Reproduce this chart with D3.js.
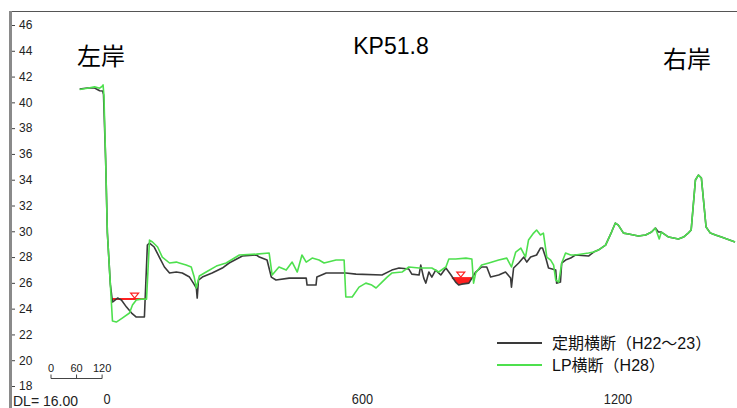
<!DOCTYPE html>
<html>
<head>
<meta charset="utf-8">
<script src="https://cdn.jsdelivr.net/npm/d3@7"></script>
<style>
  body { margin: 0; background: #fff; }
  svg { display: block; font-family: "Liberation Sans", Arial, "Noto Sans CJK JP", sans-serif; }
</style>
</head>
<body>
<svg id="chart"></svg>
<script>
// 定期横断 (H22~23) survey
var oldDist = [-63,-45,-28,-16,-9,-7,-2,2,9,14,
  26,35,47,59,70,82,89,96,101,112,
  124,136,148,164,178,195,204,211,213,216,
  225,248,272,288,319,352,359,377,387,398,
  429,469,471,492,494,516,562,586,647,670,
  687,710,717,734,738,745,750,757,764,773,
  785,797,809,820,827,834,851,867,881,893,
  902,921,937,949,951,956,968,980,987,996,
  1010,1019,1024,1031,1038,1055,1057,1066,1069,1078,
  1090,1101,1132,1144,1155,1172,1186,1195,1202,1214,
  1226,1249,1266,1280,1289,1296,1303,1320,1343,1355,
  1366,1373,1383,1390,1397,1408,1418,1430,1444,1476];
var oldElev = [41.03,41.11,41.11,40.9,40.88,40.6,35.5,29.9,25.9,24.51,
  24.82,24.67,24.12,23.66,23.35,23.35,23.35,28.93,29.09,28.78,
  28.0,27.23,26.76,26.84,26.76,26.45,25.98,25.6,24.82,26.22,
  26.45,26.76,27.15,27.54,28.08,28.16,28.0,27.77,26.45,26.22,
  26.37,26.37,25.83,25.83,26.45,26.76,26.76,26.68,26.61,26.99,
  27.15,27.07,26.68,26.61,27.38,26.37,25.98,26.84,26.45,26.99,
  26.61,27.15,26.61,26.06,25.83,25.9,25.98,26.84,27.23,27.23,
  26.45,26.61,26.84,26.37,25.67,27.15,27.54,28.0,27.61,28.0,
  28.16,28.7,28.7,28.0,27.15,26.99,25.98,26.06,27.54,27.77,
  27.92,28.16,28.08,28.39,28.54,28.93,29.94,30.64,30.48,29.86,
  29.79,29.63,29.71,29.94,30.25,29.94,29.94,29.55,29.4,29.55,
  29.86,30.1,33.98,34.36,34.13,30.33,29.86,29.71,29.55,29.17];

// LP横断 (H28) survey
var lpDist = [-63,-45,-28,-16,-10,-8,-6,-2,2,9,
  14,23,37,54,61,70,82,94,101,108,
  120,131,148,164,171,187,199,206,211,218,
  234,258,281,312,352,382,389,405,422,436,
  448,459,469,483,499,511,539,558,562,577,
  593,609,623,633,647,659,670,694,710,734,
  750,764,780,797,804,820,844,858,862,867,
  881,898,921,940,951,961,973,984,991,1003,
  1010,1019,1026,1034,1043,1050,1055,1062,1069,1078,
  1090,1101,1132,1144,1155,1172,1186,1195,1202,1214,
  1226,1249,1266,1280,1289,1298,1303,1320,1343,1355,
  1366,1373,1383,1390,1397,1408,1418,1430,1444,1476];
var lpElev = [41.0,41.1,41.2,41.1,41.25,41.35,40.5,35.5,29.9,25.9,
  23.04,22.96,23.27,23.66,24.28,24.67,24.74,24.74,29.32,29.17,
  28.78,28.0,27.54,27.61,27.54,27.38,27.23,26.45,25.6,26.53,
  26.84,27.3,27.54,28.16,28.23,28.31,26.61,27.23,26.99,27.61,
  26.84,28.16,27.61,27.92,27.77,27.54,27.77,27.77,24.9,24.9,
  25.67,25.98,25.83,25.6,26.06,26.45,26.76,26.84,27.23,27.15,
  27.15,27.15,26.84,27.23,27.85,27.85,27.92,27.85,25.98,26.76,
  27.38,27.54,27.77,27.92,27.23,28.39,28.7,28.0,29.32,29.86,
  30.1,29.71,29.86,28.0,27.77,27.38,26.22,26.06,27.54,28.31,
  28.16,28.16,28.31,28.39,28.54,28.93,29.94,30.64,30.48,29.86,
  29.79,29.63,29.71,29.94,30.25,29.4,29.94,29.55,29.4,29.55,
  29.86,30.1,33.98,34.36,34.13,30.33,29.86,29.71,29.55,29.17];

// water surfaces
var poolFrom = [14, 811];
var poolTo = [94, 857];
var poolLevel = [24.74, 26.37];
var poolMark = [66, 832];

var yTicks = [18,20,22,24,26,28,30,32,34,36,38,40,42,44,46];
var xTicks = [0, 600, 1200];
var scaleTicks = [0, 60, 120];
var legendNames = ["定期横断（H22～23）", "LP横断（H28）"];
var legendColors = ["#3a3a3a", "#4ee04e"];

var dimensions = { width: 737, height: 408 };

var svg = d3.select("#chart")
    .attr("width", dimensions.width)
    .attr("height", dimensions.height);

var xScale = d3.scaleLinear().domain([0, 1200]).range([106.5, 617.5]);
var yScale = d3.scaleLinear().domain([18, 46]).range([386, 25]);

// frame: thin top line, thick grey left bar
svg.append("line")
    .attr("x1", 10).attr("x2", dimensions.width)
    .attr("y1", 11.5).attr("y2", 11.5)
    .attr("stroke", "#555").attr("stroke-width", 1);
svg.append("rect")
    .attr("x", 9).attr("y", 11)
    .attr("width", 3).attr("height", dimensions.height - 11)
    .attr("fill", "#8a8a8a");

// y axis
var yAxis = d3.axisRight(yScale).tickValues(yTicks).tickSize(3).tickPadding(4).tickSizeOuter(0);
var yg = svg.append("g")
    .attr("transform", "translate(12,0)")
    .call(yAxis);
yg.select(".domain").remove();
yg.selectAll(".tick line").attr("stroke", "#444");
yg.selectAll(".tick text")
    .attr("fill", "#222")
    .style("font-size", "12px");

// x axis labels along the bottom edge
var xAxis = d3.axisBottom(xScale).tickValues(xTicks).tickFormat(d3.format("d"))
    .tickSize(0).tickPadding(0);
var xg = svg.append("g")
    .attr("transform", "translate(0,393)")
    .call(xAxis);
xg.select(".domain").remove();
xg.selectAll(".tick text")
    .attr("fill", "#222")
    .attr("dy", "0.71em")
    .style("font-size", "15px")
    .each(function() {
        var w = this.getComputedTextLength();
        d3.select(this).attr("textLength", w * 0.85).attr("lengthAdjust", "spacingAndGlyphs");
    });

svg.append("text")
    .attr("x", 13).attr("y", 406)
    .attr("fill", "#222")
    .style("font-size", "14px")
    .text("DL= 16.00");

// distance scale bar
var barLeft = 51, barY = 378.5;
var sg = svg.append("g");
sg.append("line")
    .attr("x1", barLeft).attr("x2", barLeft + xScale(120) - xScale(0))
    .attr("y1", barY).attr("y2", barY)
    .attr("stroke", "#444").attr("stroke-width", 1);
sg.selectAll(".sbtick")
    .data(scaleTicks)
    .enter()
    .append("line")
    .attr("x1", d => barLeft + xScale(d) - xScale(0))
    .attr("x2", d => barLeft + xScale(d) - xScale(0))
    .attr("y1", barY - 4).attr("y2", barY)
    .attr("stroke", "#444").attr("stroke-width", 1);
sg.selectAll(".sblabel")
    .data(scaleTicks)
    .enter()
    .append("text")
    .attr("x", d => barLeft + xScale(d) - xScale(0))
    .attr("y", 372)
    .attr("text-anchor", "middle")
    .attr("fill", "#222")
    .style("font-size", "11px")
    .text(d => d);

// water fill in the right pool (between surface and bed)
function bedAt(d) {
    for (var i = 1; i < oldDist.length; i++) {
        if (oldDist[i] >= d) {
            var t = (d - oldDist[i - 1]) / (oldDist[i] - oldDist[i - 1]);
            return oldElev[i - 1] + t * (oldElev[i] - oldElev[i - 1]);
        }
    }
    return oldElev[oldElev.length - 1];
}
var fillPts = [poolFrom[1]].concat(oldDist.filter(d => d > poolFrom[1] && d < poolTo[1])).concat([poolTo[1]]);
var waterArea = d3.area()
    .x(d => xScale(d))
    .y0(yScale(poolLevel[1]))
    .y1(d => yScale(Math.min(poolLevel[1], bedAt(d))));
svg.append("path")
    .datum(fillPts)
    .attr("d", waterArea)
    .attr("fill", "#ff2020");

// water surface lines
svg.selectAll(".pool")
    .data(poolLevel)
    .enter()
    .append("line")
    .attr("x1", (d, i) => xScale(poolFrom[i]))
    .attr("x2", (d, i) => xScale(poolTo[i]))
    .attr("y1", d => yScale(d))
    .attr("y2", d => yScale(d))
    .attr("stroke", "#ff2020").attr("stroke-width", 2);

// profile lines
var line = d3.line()
    .x(d => xScale(d[0]))
    .y(d => yScale(d[1]));

svg.append("path")
    .datum(d3.zip(oldDist, oldElev))
    .attr("d", line)
    .attr("fill", "none")
    .attr("stroke", legendColors[0])
    .attr("stroke-width", 1.6)
    .attr("stroke-linejoin", "round");

svg.append("path")
    .datum(d3.zip(lpDist, lpElev))
    .attr("d", line)
    .attr("fill", "none")
    .attr("stroke", legendColors[1])
    .attr("stroke-width", 1.6)
    .attr("stroke-linejoin", "round");

// water level markers
svg.selectAll(".mark")
    .data(poolMark)
    .enter()
    .append("path")
    .attr("d", (d, i) => {
        var mx = xScale(d), my = yScale(poolLevel[i]);
        return "M" + (mx - 4) + "," + (my - 6) + "L" + (mx + 4) + "," + (my - 6) + "L" + mx + "," + (my - 1) + "Z";
    })
    .attr("fill", "#fff")
    .attr("stroke", "#ff2020")
    .attr("stroke-width", 1.2);

// titles
svg.append("text")
    .attr("x", 77).attr("y", 65)
    .attr("fill", "#000")
    .style("font-size", "24px")
    .style("font-family", "'Noto Sans CJK JP', sans-serif")
    .text("左岸");
svg.append("text")
    .attr("x", 663).attr("y", 68)
    .attr("fill", "#000")
    .style("font-size", "24px")
    .style("font-family", "'Noto Sans CJK JP', sans-serif")
    .text("右岸");
svg.append("text")
    .attr("x", 391).attr("y", 54)
    .attr("text-anchor", "middle")
    .attr("fill", "#000")
    .style("font-size", "23px")
    .text("KP51.8");

// legend
var lg = svg.append("g");
lg.selectAll(".lgline")
    .data(legendNames)
    .enter()
    .append("line")
    .attr("x1", 497).attr("x2", 542)
    .attr("y1", (d, i) => 343 + i * 22)
    .attr("y2", (d, i) => 343 + i * 22)
    .attr("stroke", (d, i) => legendColors[i])
    .attr("stroke-width", 2);
lg.selectAll(".lgtext")
    .data(legendNames)
    .enter()
    .append("text")
    .attr("x", 552)
    .attr("y", (d, i) => 343 + i * 22)
    .attr("dy", "0.36em")
    .attr("fill", "#111")
    .style("font-size", "16px")
    .text(d => d);
</script>
</body>
</html>
